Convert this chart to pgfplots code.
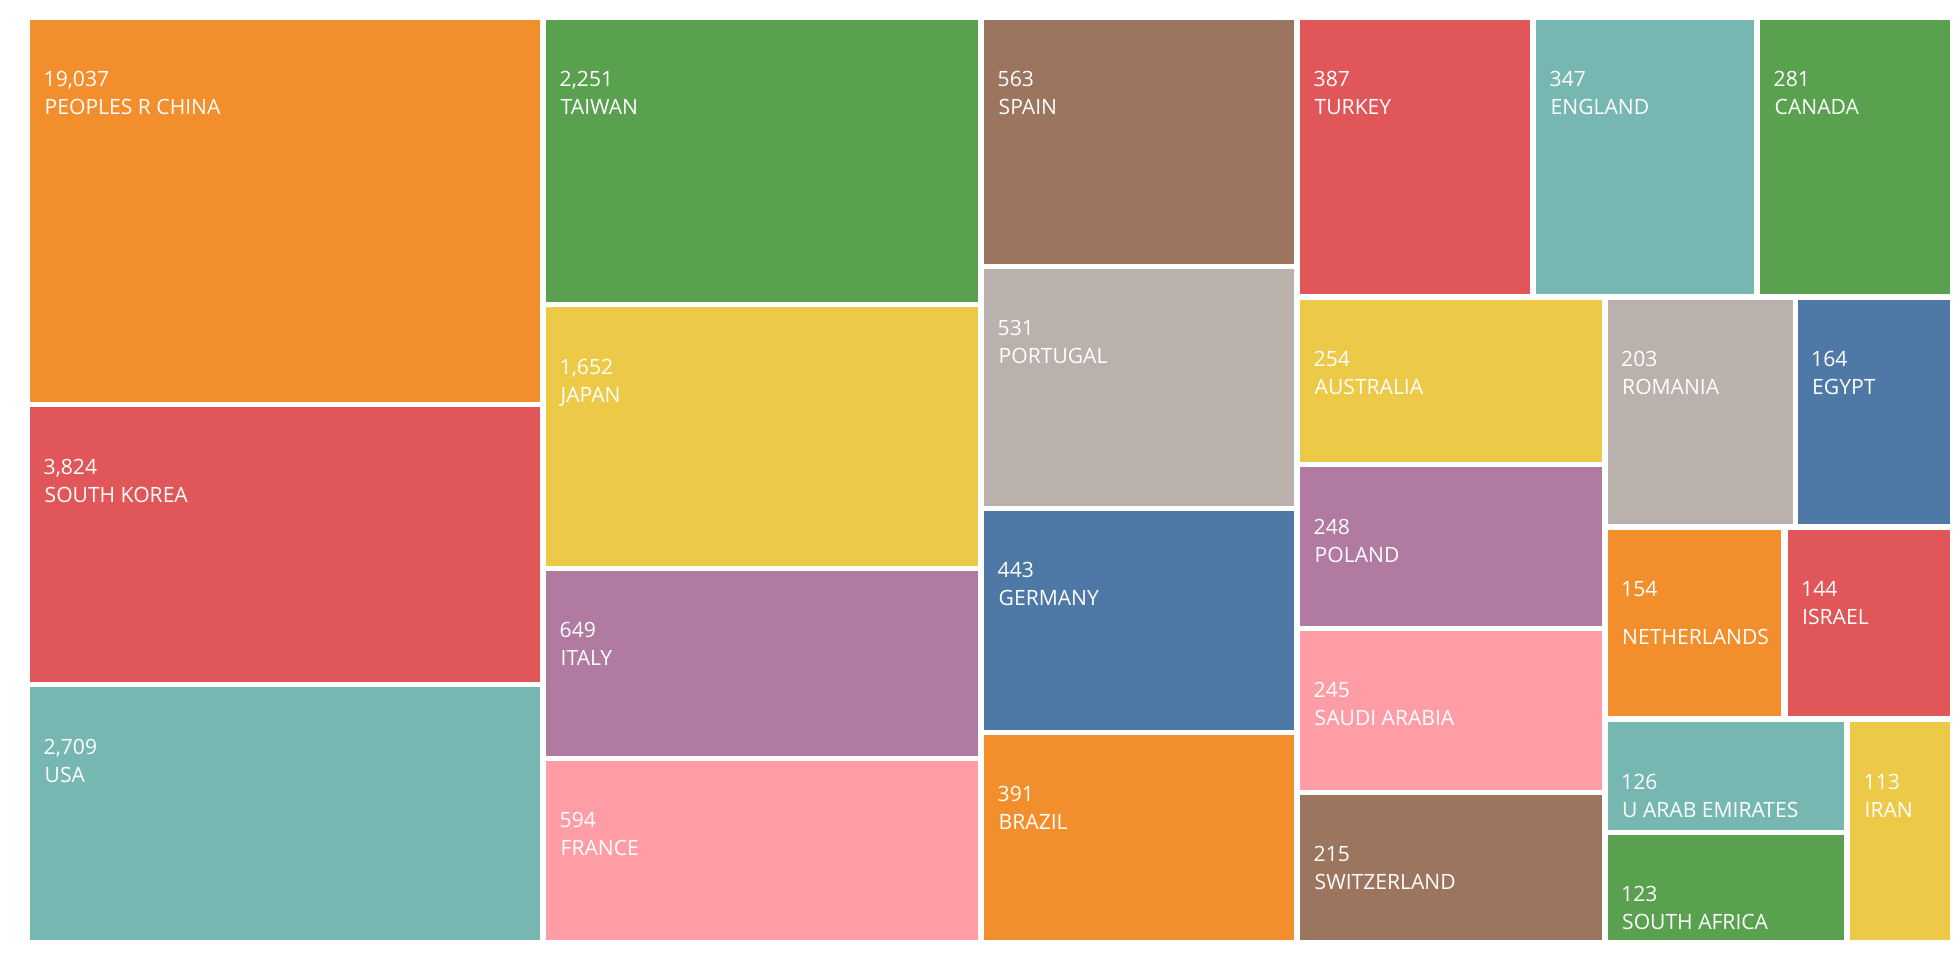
\documentclass[border=0pt]{standalone}
\usepackage{pgfplots}
\pgfplotsset{compat=1.18}
\usepackage{fontspec}
\setmainfont{Open Sans}
\definecolor{tblue}{HTML}{4E79A7}
\definecolor{torange}{HTML}{F28E2B}
\definecolor{tred}{HTML}{E15759}
\definecolor{tteal}{HTML}{76B7B2}
\definecolor{tgreen}{HTML}{59A14F}
\definecolor{tyellow}{HTML}{EDC948}
\definecolor{tpurple}{HTML}{B07AA1}
\definecolor{tpink}{HTML}{FF9DA7}
\definecolor{tbrown}{HTML}{9C755F}
\definecolor{tgray}{HTML}{BAB0AC}
% one rectangle of the treemap: [name drop] x0 y0 x1 y1 (pixels, y downward), colour, value, name
\newcommand{\tile}[8][9.5mm]{%
  \addplot[fill=#6, draw=none] coordinates {(#2,#3) (#4,#3) (#4,#5) (#2,#5)} -- cycle;
  \node[anchor=base west, inner sep=0pt, text=white, font=\fontsize{6}{7}\selectfont, xshift=1.3mm, yshift=-6.7mm] at (axis cs:#2,#3) {#7};
  \node[anchor=base west, inner sep=0pt, text=white, font=\fontsize{6}{7}\selectfont, xshift=1.4mm, yshift=-#1] at (axis cs:#2,#3) {#8};
}
\begin{document}
\begin{tikzpicture}
\begin{axis}[
  scale only axis, width=196mm, height=96mm,
  xmin=0, xmax=1960, ymin=0, ymax=960, y dir=reverse,
  hide axis, clip=false,
]
\addplot[fill=white, draw=none] coordinates {(0,0) (1960,0) (1960,960) (0,960)} -- cycle;
\tile{30}{20}{540}{402.5}{torange}{19,037}{PEOPLES R CHINA}
\tile{30}{407.5}{540}{682.5}{tred}{3,824}{SOUTH KOREA}
\tile{30}{687.5}{540}{940}{tteal}{2,709}{USA}
\tile{546}{20}{977.5}{302.5}{tgreen}{2,251}{TAIWAN}
\tile{546}{307.5}{977.5}{566}{tyellow}{1,652}{JAPAN}
\tile{546}{571}{977.5}{756}{tpurple}{649}{ITALY}
\tile{546}{761}{977.5}{940}{tpink}{594}{FRANCE}
\tile{984}{20}{1294}{264}{tbrown}{563}{SPAIN}
\tile{984}{269}{1294}{506}{tgray}{531}{PORTUGAL}
\tile{984}{511}{1294}{730}{tblue}{443}{GERMANY}
\tile{984}{735}{1294}{940}{torange}{391}{BRAZIL}
\tile{1300}{20}{1530}{294}{tred}{387}{TURKEY}
\tile{1536}{20}{1754}{294}{tteal}{347}{ENGLAND}
\tile{1760}{20}{1950}{294}{tgreen}{281}{CANADA}
\tile{1300}{300}{1602}{462.5}{tyellow}{254}{AUSTRALIA}
\tile{1300}{467.5}{1602}{626}{tpurple}{248}{POLAND}
\tile{1300}{631}{1602}{790}{tpink}{245}{SAUDI ARABIA}
\tile{1300}{795}{1602}{940}{tbrown}{215}{SWITZERLAND}
\tile{1607.5}{300}{1792.5}{524}{tgray}{203}{ROMANIA}
\tile{1797.5}{300}{1950}{524}{tblue}{164}{EGYPT}
\tile[11.5mm]{1607.5}{530}{1781}{716}{torange}{154}{NETHERLANDS}
\tile{1787.5}{530}{1950}{716}{tred}{144}{ISRAEL}
\tile{1607.5}{722.5}{1844}{830}{tteal}{126}{U ARAB EMIRATES}
\tile{1607.5}{835}{1844}{940}{tgreen}{123}{SOUTH AFRICA}
\tile{1850}{722.5}{1950}{940}{tyellow}{113}{IRAN}
\end{axis}
\end{tikzpicture}
\end{document}
